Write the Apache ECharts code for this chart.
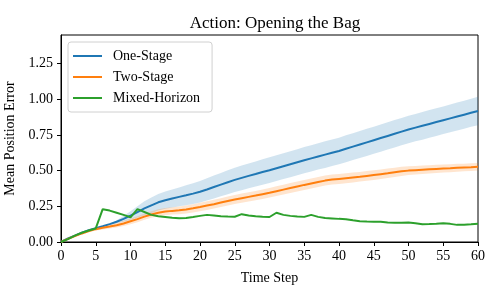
<!DOCTYPE html>
<html><head><meta charset="utf-8">
<script src="https://cdn.jsdelivr.net/npm/echarts@6/dist/echarts.min.js"></script>
<style>html,body{margin:0;padding:0;background:#fff}#c{width:500px;height:300px}</style>
</head><body><div id="c"></div>
<script>
var steps = [];
for (var i = 0; i <= 60; i++) steps.push(i);

var oneStage = [0,0.025,0.045,0.065,0.082,0.097,0.11,0.125,0.142,0.162,0.185,0.21,0.235,0.257,0.278,0.293,0.305,0.316,0.327,0.339,0.352,0.368,0.385,0.402,0.419,0.435,0.449,0.463,0.476,0.49,0.503,0.517,0.531,0.545,0.559,0.573,0.586,0.599,0.612,0.625,0.638,0.653,0.668,0.683,0.698,0.713,0.728,0.743,0.758,0.773,0.788,0.801,0.814,0.827,0.840,0.853,0.866,0.879,0.892,0.905,0.918];
var oneStageHalf = [0,0,0,0,0,0,0,0,0.01,0.02,0.03,0.04,0.05,0.055,0.058,0.06,0.063,0.066,0.07,0.073,0.076,0.078,0.08,0.082,0.084,0.085,0.086,0.087,0.088,0.089,0.09,0.09,0.09,0.091,0.091,0.092,0.092,0.092,0.093,0.093,0.093,0.094,0.094,0.094,0.095,0.095,0.095,0.095,0.096,0.096,0.096,0.096,0.097,0.097,0.097,0.097,0.098,0.098,0.098,0.098,0.1];
var twoStage = [0,0.022,0.042,0.06,0.077,0.09,0.1,0.108,0.117,0.13,0.145,0.16,0.178,0.193,0.205,0.213,0.218,0.222,0.228,0.236,0.245,0.255,0.265,0.276,0.287,0.298,0.307,0.316,0.325,0.335,0.345,0.356,0.367,0.378,0.389,0.4,0.41,0.42,0.43,0.437,0.442,0.447,0.452,0.457,0.463,0.469,0.475,0.481,0.488,0.495,0.5,0.503,0.506,0.509,0.512,0.515,0.517,0.52,0.522,0.524,0.527];
var twoStageHalf = [0,0.003,0.005,0.007,0.009,0.01,0.012,0.014,0.016,0.018,0.02,0.021,0.022,0.023,0.024,0.025,0.026,0.027,0.028,0.029,0.03,0.03,0.031,0.031,0.032,0.032,0.032,0.033,0.033,0.033,0.034,0.034,0.034,0.035,0.035,0.035,0.035,0.035,0.035,0.035,0.035,0.035,0.035,0.034,0.034,0.034,0.033,0.033,0.032,0.032,0.031,0.03,0.03,0.029,0.029,0.028,0.028,0.028,0.027,0.027,0.027];
var mixedHorizon = [0,0.02,0.045,0.065,0.08,0.095,0.23,0.22,0.205,0.19,0.173,0.23,0.21,0.19,0.18,0.175,0.17,0.166,0.168,0.175,0.183,0.19,0.186,0.181,0.178,0.177,0.195,0.186,0.18,0.177,0.175,0.205,0.19,0.183,0.178,0.176,0.19,0.176,0.168,0.165,0.162,0.16,0.152,0.146,0.143,0.142,0.142,0.136,0.134,0.134,0.137,0.132,0.125,0.126,0.128,0.131,0.127,0.12,0.121,0.124,0.128];

var xTicks = [0,5,10,15,20,25,30,35,40,45,50,55,60];
var yTicks = [0,0.25,0.5,0.75,1.0,1.25];

var FONT = '"Liberation Serif","DejaVu Serif",serif';
function pts(m){return m.map(function(v,i){return [steps[i], v];});}
function bandSeries(mean, half, color){
  return {
    type:'custom', silent:true, z:1,
    data:[[0]],
    renderItem:function(params, api){
      var up = [], lo = [];
      for (var i = 0; i < mean.length; i++){
        up.push(api.coord([steps[i], mean[i] + half[i]]));
        lo.push(api.coord([steps[i], mean[i] - half[i]]));
      }
      var poly = up.concat(lo.reverse());
      return {type:'polygon', shape:{points:poly}, style:{fill:color, stroke:null}};
    }
  };
}

var chart = echarts.init(document.getElementById('c'), null, {renderer:'canvas'});
chart.setOption({
  animation:false,
  backgroundColor:'#fff',
  title:{text:'Action: Opening the Bag', left:270, top:10, textAlign:'center',
    textStyle:{fontFamily:FONT, fontSize:17, fontWeight:'normal', color:'#000'}},
  grid:{left:61, right:22, top:35, bottom:58, show:true, borderColor:'#000', borderWidth:1,
    containLabel:false, outerBoundsMode:'none'},
  legend:{data:['One-Stage','Two-Stage','Mixed-Horizon'], orient:'vertical', left:68, top:42,
    icon:'rect', itemWidth:29, itemHeight:2, itemGap:7, padding:[7,12,7,5], borderColor:'#d0d0d0', borderWidth:1,
    borderRadius:3, backgroundColor:'rgba(255,255,255,0.8)',
    textStyle:{fontFamily:FONT, fontSize:14, lineHeight:14, color:'#000', padding:[0,0,0,6]}},
  xAxis:{type:'value', min:0, max:60, interval:5, name:'Time Step', nameLocation:'middle', nameGap:29,
    nameTextStyle:{fontFamily:FONT, fontSize:14, color:'#000'},
    axisLine:{show:true, onZero:false, lineStyle:{color:'#000'}}, splitLine:{show:false},
    axisTick:{show:true, length:4, lineStyle:{color:'#000'}, customValues:xTicks},
    axisLabel:{fontFamily:FONT, fontSize:14, color:'#000', margin:7, customValues:xTicks}},
  yAxis:{type:'value', min:0, max:1.45, name:'Mean Position Error', nameLocation:'middle', nameGap:37,
    nameTextStyle:{fontFamily:FONT, fontSize:14, color:'#000'},
    axisLine:{show:true, onZero:false, lineStyle:{color:'#000'}}, splitLine:{show:false},
    axisTick:{show:true, length:4, lineStyle:{color:'#000'}, customValues:yTicks},
    axisLabel:{fontFamily:FONT, fontSize:14, color:'#000', margin:8, customValues:yTicks,
      formatter:function(v){return v.toFixed(2);}}},
  series:[
    bandSeries(oneStage, oneStageHalf, 'rgba(31,119,180,0.2)'),
    bandSeries(twoStage, twoStageHalf, 'rgba(255,127,14,0.2)'),
    {name:'One-Stage', type:'line', z:3, data:pts(oneStage), symbol:'none', color:'#1f77b4', lineStyle:{width:2, color:'#1f77b4'}},
    {name:'Two-Stage', type:'line', z:3, data:pts(twoStage), symbol:'none', color:'#ff7f0e', lineStyle:{width:2, color:'#ff7f0e'}},
    {name:'Mixed-Horizon', type:'line', z:3, data:pts(mixedHorizon), symbol:'none', color:'#2ca02c', lineStyle:{width:2, color:'#2ca02c'}}
  ]
});
</script></body></html>
